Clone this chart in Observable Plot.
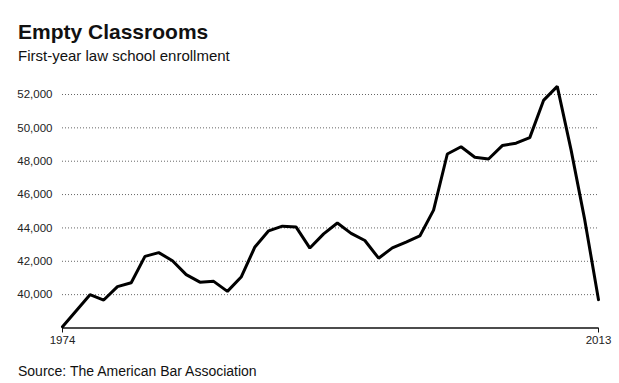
<!DOCTYPE html>
<html>
<head>
<meta charset="utf-8">
<script src="https://cdn.jsdelivr.net/npm/d3@7"></script>
<script src="https://cdn.jsdelivr.net/npm/@observablehq/plot@0.6"></script>
<style>
  html, body { margin: 0; padding: 0; background: #fff; }
  #wrap { position: relative; width: 619px; height: 383px; overflow: hidden; font-family: "Liberation Sans", Arial, Helvetica, sans-serif; color: #111; }
  #title { position: absolute; left: 18px; top: 20.5px; font-size: 21px; line-height: 21px; font-weight: bold; white-space: nowrap; }
  #subtitle { position: absolute; left: 18px; top: 48.3px; font-size: 15px; line-height: 15px; white-space: nowrap; }
  #chart { position: absolute; left: 0; top: 70px; }
  #source { position: absolute; left: 18px; top: 364px; font-size: 14px; line-height: 14px; white-space: nowrap; }
</style>
</head>
<body>
<div id="wrap">
  <div id="title">Empty Classrooms</div>
  <div id="subtitle">First-year law school enrollment</div>
  <div id="chart"></div>
  <div id="source">Source: The American Bar Association</div>
</div>
<script>
const years = [1974,1975,1976,1977,1978,1979,1980,1981,1982,1983,1984,1985,1986,1987,1988,1989,1990,1991,1992,1993,1994,1995,1996,1997,1998,1999,2000,2001,2002,2003,2004,2005,2006,2007,2008,2009,2010,2011,2012,2013];
const enrollment = [38074,39038,39996,39676,40479,40717,42296,42521,42034,41200,40747,40796,40195,41055,42860,43826,44104,44050,42793,43644,44298,43676,43245,42186,42804,43152,43518,45070,48433,48867,48239,48132,48937,49082,49414,51646,52488,48697,44481,39700];
const yTicks = [40000,42000,44000,46000,48000,50000,52000];
const xTicks = [1974, 2013];
const yBase = 38000;

const data = years.map((y, i) => ({year: y, value: enrollment[i]}));

const chart = Plot.plot({
  width: 619,
  height: 280,
  marginLeft: 62,
  marginRight: 21,
  marginTop: 24,
  marginBottom: 22.5,
  style: {fontFamily: '"Liberation Sans", Arial, Helvetica, sans-serif', fontSize: "11.5px", color: "#222", background: "#fff"},
  x: {domain: [1974, 2013], axis: null},
  y: {domain: [38000, 52000], axis: null},
  marks: [
    Plot.ruleY(yTicks, {stroke: "#666", strokeWidth: 1, strokeDasharray: "1,2"}),
    Plot.axisY(yTicks, {tickSize: 0, tickPadding: 10, tickFormat: d3.format(","), fontSize: 11.5, label: null}),
    Plot.ruleY([yBase], {stroke: "#111", strokeWidth: 1.3}),
    Plot.axisX(xTicks, {tickSize: 5, tickPadding: 3, tickFormat: d => String(d), fontSize: 11.5, label: null, stroke: "#111"}),
    Plot.line(data, {x: "year", y: "value", stroke: "#000", strokeWidth: 3, strokeLinejoin: "miter"})
  ]
});
document.getElementById("chart").appendChild(chart);
</script>
</body>
</html>
